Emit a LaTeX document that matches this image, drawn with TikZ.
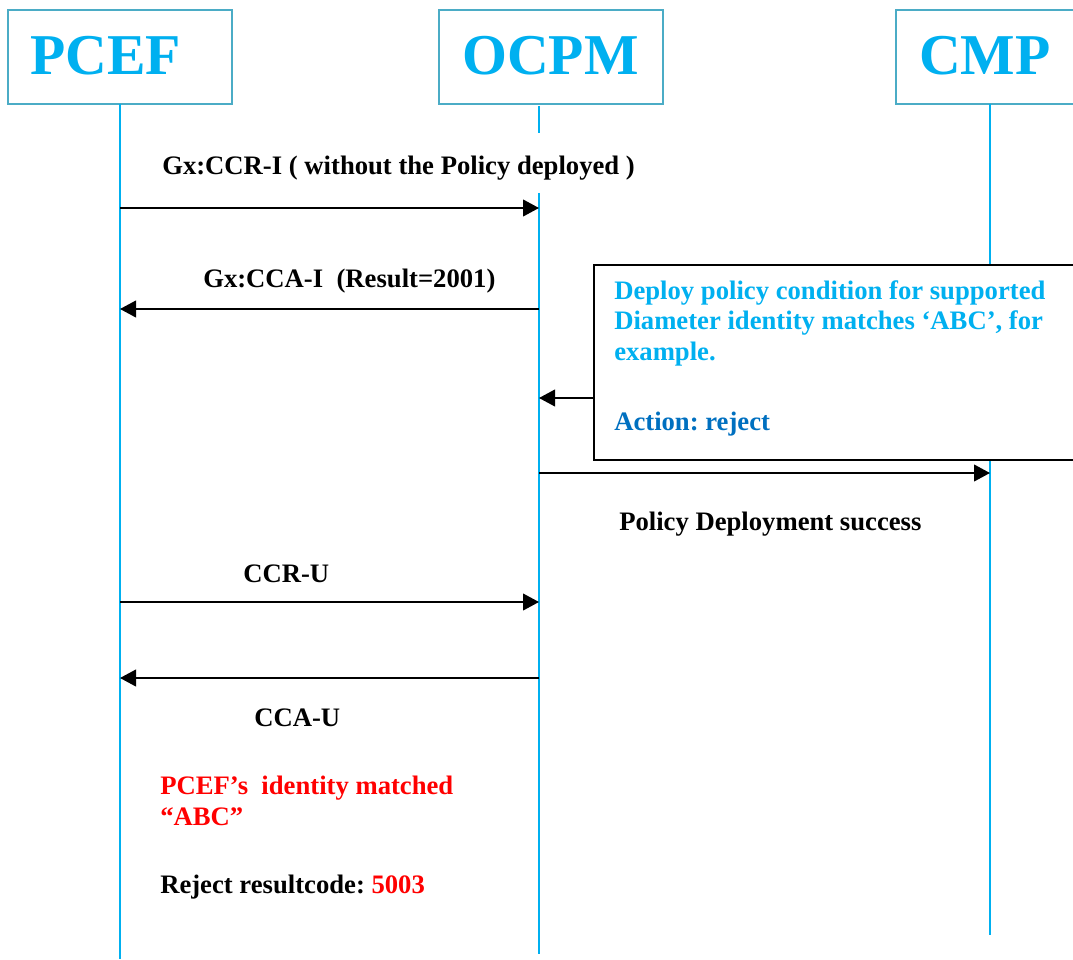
\documentclass[tikz,border=0pt]{standalone}
\usepackage{fontspec}
\setmainfont{Liberation Serif}
\usetikzlibrary{arrows.meta}
\definecolor{lifecyan}{RGB}{0,176,240}
\definecolor{boxteal}{RGB}{75,172,198}
\definecolor{actblue}{RGB}{0,112,192}
\definecolor{alertred}{RGB}{255,0,0}
\frenchspacing

\begin{document}
\begin{tikzpicture}[x=0.75pt,y=-0.75pt,
  headbox/.style={draw=boxteal,line width=1.5pt,fill=white,inner sep=0pt,
                  minimum width=168pt,minimum height=70.5pt},
  headtxt/.style={text=lifecyan,font=\fontsize{43.3}{50}\selectfont\bfseries,
                  inner sep=0pt,anchor=base west},
  life/.style={draw=lifecyan,line width=1.4pt},
  msg/.style={draw=black,line width=1.5pt,-{Triangle[length=12pt,width=12.5pt]}},
  lbl/.style={font=\fontsize{20}{24}\selectfont\bfseries,inner sep=0pt,anchor=base west},
  notebox/.style={draw=black,line width=1.5pt,fill=white},
]
\useasboundingbox (0,0) rectangle (1073,959);
\clip (0,0) rectangle (1073,959);

% participant heads
\node[headbox] (pcefbox) at (120,57) {};
\node[headbox] (ocpmbox) at (551,57) {};
\node[headbox] (cmpbox)  at (1008,57) {};
\node[headtxt] (pceft) at (30,75)  {PCEF};
\node[headtxt] (ocpmt) at (462,75) {OCPM};
\node[headtxt] (cmpt)  at (919,75) {CMP};

% lifelines
\coordinate (pcefTop) at (120,104);
\coordinate (pcefEnd) at (120,959);
\coordinate (ocpmTop) at (539,106);
\coordinate (ocpmGapA) at (539,133);
\coordinate (ocpmGapB) at (539,193);
\coordinate (ocpmEnd) at (539,954);
\coordinate (cmpTop) at (990,104);
\coordinate (cmpEnd) at (990,935);
\draw[life] (pcefTop) -- (pcefEnd);
\draw[life] (ocpmTop) -- (ocpmGapA);
\draw[life] (ocpmGapB) -- (ocpmEnd);
\draw[life] (cmpTop) -- (cmpEnd);

% policy note on the CMP side
\node[notebox,anchor=north west,minimum width=375pt,minimum height=146pt,inner sep=0pt]
  (note) at (593,264) {};
\node[lbl,text=lifecyan] (n1) at (614,299) {Deploy policy condition for supported};
\node[lbl,text=lifecyan] (n2) at (614,329) {Diameter identity matches ‘ABC’, for};
\node[lbl,text=lifecyan] (n3) at (614,360) {example.};
\node[lbl,text=actblue]  (n4) at (614,430) {Action: reject};

% message end points
\coordinate (a1) at (120,208); \coordinate (b1) at (539,208);
\coordinate (a2) at (539,309); \coordinate (b2) at (120,309);
\coordinate (a3) at (593,398); \coordinate (b3) at (539,398);
\coordinate (a4) at (539,473); \coordinate (b4) at (990,473);
\coordinate (a5) at (120,602); \coordinate (b5) at (539,602);
\coordinate (a6) at (539,678); \coordinate (b6) at (120,678);

\draw[msg] (a1) -- (b1);
\draw[msg] (a2) -- (b2);
\draw[msg] (a3) -- (b3);
\draw[msg] (a4) -- (b4);
\draw[msg] (a5) -- (b5);
\draw[msg] (a6) -- (b6);

% message labels
\node[lbl] (l1) at (162,175) {Gx:CCR-I ( without the Policy deployed )};
\node[lbl] (l2) at (203,287) {Gx:CCA-I\ \ (Result=2001)};
\node[lbl] (l4) at (619,530) {Policy Deployment success};
\node[lbl] (l5) at (243,582) {CCR-U};
\node[lbl] (l6) at (254,726) {CCA-U};

% outcome notes
\node[lbl,text=alertred] (r1) at (160,794) {PCEF’s\ \ identity matched};
\node[lbl,text=alertred] (r2) at (160,825) {“ABC”};
\node[lbl] (r3) at (160,893) {Reject resultcode: \textcolor{alertred}{5003}};
\end{tikzpicture}
\end{document}
